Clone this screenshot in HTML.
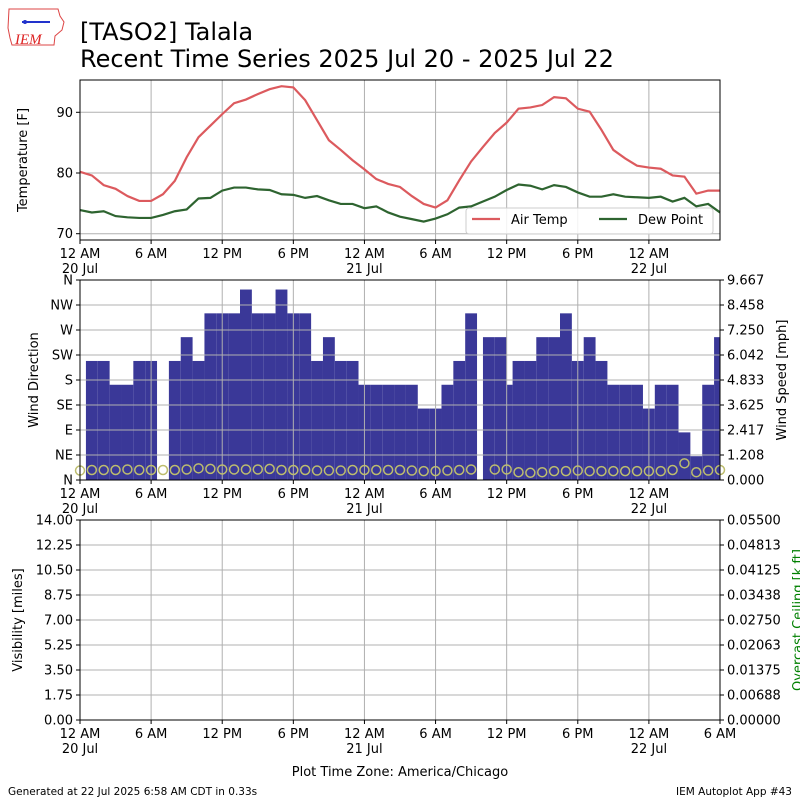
<!DOCTYPE html>
<html><head><meta charset="utf-8"><style>
body{margin:0;background:#fff}
svg{font-family:"DejaVu Sans","Liberation Sans",sans-serif}
</style></head><body>
<svg id="c" width="800" height="800" viewBox="0 0 800 800" xmlns="http://www.w3.org/2000/svg">
<g>
<path d="M9,9 L58,9 L60,16 L64,22 L62,30 L55,36 L54,45 L12,45 L10,38 L8,28 Z" fill="none" stroke="#d44" stroke-width="1"/>
<line x1="22" y1="22" x2="50" y2="22" stroke="#2233cc" stroke-width="2"/>
<circle cx="25" cy="22" r="2" fill="#2233cc"/>
<text x="15" y="44" font-family="Liberation Serif,serif" font-style="italic" font-size="15" fill="#d22">IEM</text>
</g>
<text x="80" y="40" font-size="24">[TASO2] Talala</text>
<text x="80" y="67" font-size="24">Recent Time Series 2025 Jul 20 - 2025 Jul 22</text>
<g id="p1"></g>
<g id="p2"></g>
<g id="p3"></g>
<text x="400" y="776" font-size="13" text-anchor="middle">Plot Time Zone: America/Chicago</text>
<text x="8" y="795" font-size="10.5">Generated at 22 Jul 2025 6:58 AM CDT in 0.33s</text>
<text x="792" y="795" font-size="10.5" text-anchor="end">IEM Autoplot App #43</text>
</svg>
<script>
const tempHours=[0,1,2,3,4,5,6,7,8,9,10,11,12,13,14,15,16,17,18,19,20,21,22,23,24,25,26,27,28,29,30,31,32,33,34,35,36,37,38,39,40,41,42,43,44,45,46,47,48,49,50,51,52,53,54];
const airTemp=[80.2,79.6,78.0,77.4,76.2,75.4,75.4,76.5,78.7,82.6,85.9,87.8,89.7,91.5,92.1,93.0,93.8,94.3,94.1,92.0,88.7,85.4,83.8,82.1,80.6,79.0,78.2,77.7,76.2,74.9,74.3,75.5,78.8,81.9,84.3,86.6,88.3,90.6,90.8,91.2,92.5,92.3,90.6,90.1,87.1,83.8,82.4,81.2,80.9,80.7,79.6,79.4,76.6,77.1,77.1];
const dewPoint=[73.9,73.5,73.7,72.9,72.7,72.6,72.6,73.1,73.7,74.0,75.8,75.9,77.1,77.6,77.6,77.3,77.2,76.5,76.4,75.9,76.2,75.5,74.9,74.9,74.2,74.5,73.5,72.8,72.4,72.0,72.5,73.2,74.3,74.5,75.3,76.1,77.2,78.1,77.9,77.3,78.0,77.7,76.8,76.1,76.1,76.5,76.1,76.0,75.9,76.1,75.3,75.9,74.5,74.9,73.5];
const barHours=[1,2,3,4,5,6,8,9,10,11,12,13,14,15,16,17,18,19,20,21,22,23,24,25,26,27,28,29,30,31,32,33,34.5,35.5,36,37,38,39,40,41,42,43,44,45,46,47,48,49,50,51,52,53,54];
const windKt=[5,5,4,4,5,5,5,6,5,7,7,7,8,7,7,8,7,7,5,6,5,5,4,4,4,4,4,3,3,4,5,7,6,6,4,5,5,6,6,7,5,6,5,4,4,4,3,4,4,2,1,4,6];
const dirHours=[0,1,2,3,4,5,6,7,8,9,10,11,12,13,14,15,16,17,18,19,20,21,22,23,24,25,26,27,28,29,30,31,32,33,35,36,37,38,39,40,41,42,43,44,45,46,47,48,49,50,51,52,53,54];
const windDir=[17,18,18,18,19,18,18,18,18,19,21,20,19,19,19,19,20,18,18,18,17,17,17,18,18,18,18,18,17,16,16,17,18,19,19,19,14,13,14,16,16,17,16,16,16,16,16,16,16,18,30,14,17,18];
const xTickHours=[0,6,12,18,24,30,36,42,48,54];
const xTickLabels=["12 AM","6 AM","12 PM","6 PM","12 AM","6 AM","12 PM","6 PM","12 AM","6 AM"];
const dateLabels={0:"20 Jul",24:"21 Jul",48:"22 Jul"};
const tempTicks=[70,80,90];
const dirLabels=["N","NE","E","SE","S","SW","W","NW","N"];
const speedLabels=["0.000","1.208","2.417","3.625","4.833","6.042","7.250","8.458","9.667"];
const visLabels=["0.00","1.75","3.50","5.25","7.00","8.75","10.50","12.25","14.00"];
const ceilLabels=["0.00000","0.00688","0.01375","0.02063","0.02750","0.03438","0.04125","0.04813","0.05500"];

const NS="http://www.w3.org/2000/svg";
const L=80,R=720;
const X=h=>L+h*(R-L)/54;
function mk(p,tag,a,txt){const e=document.createElementNS(NS,tag);for(const k in a)e.setAttribute(k,a[k]);if(txt!==undefined)e.textContent=txt;p.appendChild(e);return e;}
function xAxis(g,top,bot,maxTick){
  xTickHours.forEach((h,i)=>{
    if(h>maxTick)return;
    const gl=mk(g,'line',{x1:X(h),x2:X(h),y1:top,y2:bot,stroke:'#b0b0b0','stroke-width':1});
    
    
    mk(g,'line',{x1:X(h),x2:X(h),y1:bot,y2:bot+4,stroke:'#000'});
    const t=mk(g,'text',{x:X(h),y:bot+18,'font-size':13,'text-anchor':'middle'},xTickLabels[i]);
    
    
    if(dateLabels[h]){const d=mk(g,'text',{x:X(h),y:bot+33,'font-size':13,'text-anchor':'middle'},dateLabels[h]);
      
      }
  });
}
function yGrid(g,top,bot,n,leftLabels,rightLabels){
  for(let i=0;i<=n;i++){
    const y=bot-(bot-top)*i/n;
    const gl=mk(g,'line',{x1:L,x2:R,y1:y,y2:y,stroke:'#b0b0b0','stroke-width':1});
    
    
    mk(g,'line',{x1:L-4,x2:L,y1:y,y2:y,stroke:'#000'});
    const t=mk(g,'text',{x:L-7,y:y+4.5,'font-size':13,'text-anchor':'end'},leftLabels[i]);
    
    
    if(rightLabels){mk(g,'line',{x1:R,x2:R+4,y1:y,y2:y,stroke:'#000'});
      const r=mk(g,'text',{x:R+7,y:y+4.5,'font-size':13},rightLabels[i]);
      
      }
  }
}
function frame(g,top,bot){const f=mk(g,'rect',{x:L,y:top,width:R-L,height:bot-top,fill:'none',stroke:'#000','stroke-width':1});
  
  }
function ylabel(g,x,y,txt,color,name){const t=mk(g,'text',{x:x,y:y,'font-size':13,'text-anchor':'middle',transform:`rotate(-90 ${x} ${y})`,fill:color||'#000'},txt);
  
  }

// Panel 1
(function(){
  const g=document.getElementById('p1'),top=80,bot=240;
  const Y=v=>112.3+(90-v)*6.07;
  xAxis(g,top,bot,48);
  tempTicks.forEach(v=>{const y=Y(v);
    const gl=mk(g,'line',{x1:L,x2:R,y1:y,y2:y,stroke:'#b0b0b0'});
    
    
    mk(g,'line',{x1:L-4,x2:L,y1:y,y2:y,stroke:'#000'});
    const t=mk(g,'text',{x:L-7,y:y+4.5,'font-size':13,'text-anchor':'end'},String(v));
    
    });
  const pa=mk(g,'polyline',{points:tempHours.map((h,i)=>X(h)+','+Y(airTemp[i])).join(' '),fill:'none',stroke:'#dc5a5e','stroke-width':2.2});
  
  
  const pd=mk(g,'polyline',{points:tempHours.map((h,i)=>X(h)+','+Y(dewPoint[i])).join(' '),fill:'none',stroke:'#2e6430','stroke-width':2.2});
  
  
  frame(g,top,bot);
  ylabel(g,27,160,'Temperature [F]',null,'y-axis-title');
  const lg=mk(g,'g',{});
  
  
  mk(lg,'rect',{x:466,y:208,width:247,height:26,fill:'#fff','fill-opacity':0.85,stroke:'#ccc',rx:3});
  mk(lg,'line',{x1:472,x2:500,y1:219,y2:219,stroke:'#dc5a5e','stroke-width':2.2});
  const a=mk(lg,'text',{x:511,y:224,'font-size':13},'Air Temp');
  
  
  mk(lg,'line',{x1:599,x2:627,y1:219,y2:219,stroke:'#2e6430','stroke-width':2.2});
  const d=mk(lg,'text',{x:638,y:224,'font-size':13},'Dew Point');
  
  
})();

// Panel 2
(function(){
  const g=document.getElementById('p2'),top=280,bot=480;
  const KT=1.15078, smax=9.667;
  const YS=v=>bot-(v*KT)/smax*(bot-top);
  const YD=v=>bot-v/360*(bot-top);
  const w=(R-L)/54;
  barHours.forEach((h,i)=>{
    const y=YS(windKt[i]);
    const x0=Math.max(L,X(h)-w/2),x1=Math.min(R,X(h)+w/2);
    const b=mk(g,'rect',{x:x0,y:y,width:x1-x0,height:bot-y,fill:'#3a3898'});
    
    
  });
  xAxis(g,top,bot,48);
  yGrid(g,top,bot,8,dirLabels,speedLabels);
  dirHours.forEach((h,i)=>{
    const c=mk(g,'circle',{cx:X(h),cy:YD(windDir[i]),r:4.5,fill:'none',stroke:'#bdbd6e','stroke-width':1.5});
    
    
  });
  frame(g,top,bot);
  ylabel(g,38,380,'Wind Direction',null,'y-axis-title');
  ylabel(g,786,380,'Wind Speed [mph]',null,'right-axis-title');
})();

// Panel 3
(function(){
  const g=document.getElementById('p3'),top=520,bot=720;
  xAxis(g,top,bot,54);
  yGrid(g,top,bot,8,visLabels,ceilLabels);
  frame(g,top,bot);
  ylabel(g,22,620,'Visibility [miles]',null,'y-axis-title');
  ylabel(g,802,620,'Overcast Ceiling [k ft]','#008000','right-axis-title');
})();
</script>
</body></html>
